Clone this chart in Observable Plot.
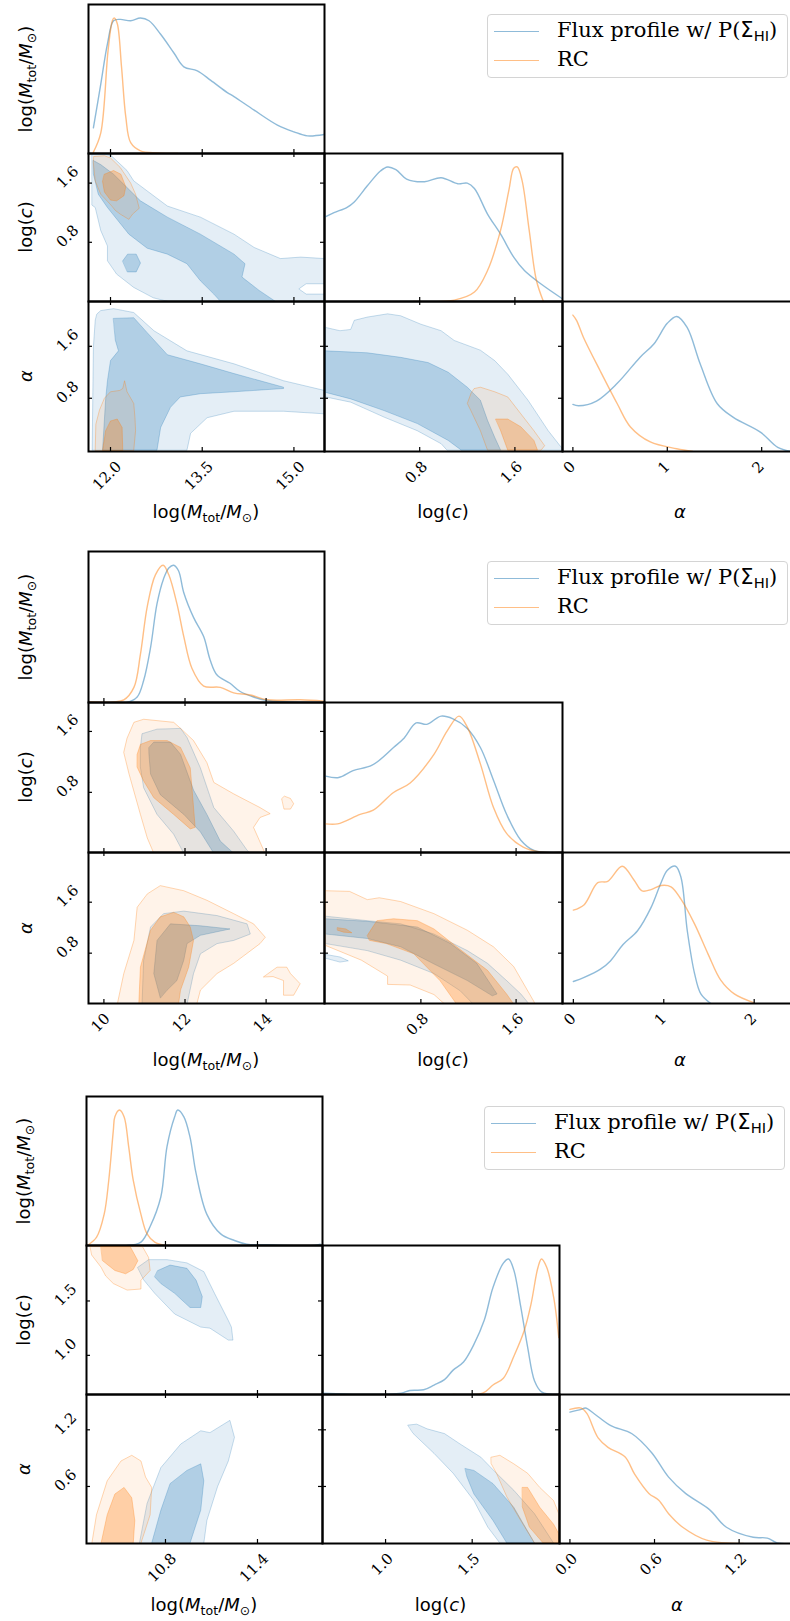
<!DOCTYPE html>
<html><head><meta charset="utf-8">
<script src="https://cdn.jsdelivr.net/npm/d3@7"></script>
<script src="https://cdn.jsdelivr.net/npm/@observablehq/plot@0.6"></script>
<style>
html,body{margin:0;padding:0;background:#fff;overflow:hidden}
#root{position:relative;width:790px;height:1621px;overflow:hidden}
.al{position:absolute;font-family:"DejaVu Sans",sans-serif;font-size:18px;white-space:nowrap;line-height:1;transform:translate(-50%,-50%);color:#000}
.al.v{transform:translate(-50%,-50%) rotate(-90deg)}
.al sub,.lg sub{font-size:0.7em;position:relative;top:0.28em;vertical-align:baseline;line-height:0}
.lg{position:absolute;width:299px;height:62px;border:1px solid #d4d4d4;border-radius:4px;background:rgba(255,255,255,0.8);font-family:"DejaVu Serif",serif;font-size:21px}
.lg .sw{position:absolute;left:6px;width:45px;height:0;border-top:1.5px solid}
.lg .tx{position:absolute;left:69px;line-height:1;transform:translateY(-55%);white-space:nowrap}
.sans{font-family:"DejaVu Sans",sans-serif}
</style></head>
<body><div id="root"></div>
<script>
// ---------------- Figure 1 data ----------------
const f1_tickM = ["12.0","13.5","15.0"], f1_tickc = ["0.8","1.6"], f1_ticka = ["0","1","2"], f1_tickcY = ["0.8","1.6"], f1_tickaY = ["0.8","1.6"];
const f1_M_blue = [[11.72,0.19],[11.84,0.51],[11.95,0.81],[12.05,0.98],[12.16,0.99],[12.33,0.98],[12.49,1.0],[12.63,0.98],[12.82,0.88],[13.04,0.74],[13.2,0.64],[13.42,0.61],[13.64,0.54],[13.91,0.45],[14.02,0.42],[14.35,0.32],[14.73,0.21],[15.0,0.16],[15.22,0.13],[15.49,0.14]];
const f1_M_orange = [[11.72,0.01],[11.84,0.15],[11.96,0.76],[12.03,0.98],[12.06,1.0],[12.11,0.96],[12.18,0.64],[12.25,0.27],[12.33,0.08],[12.49,0.02],[12.77,0.005],[13.1,0]];
const f1_c_blue = [[0.01,0.63],[0.08,0.66],[0.19,0.70],[0.25,0.74],[0.36,0.86],[0.47,0.97],[0.53,1.0],[0.60,0.98],[0.69,0.91],[0.84,0.89],[0.98,0.92],[1.12,0.875],[1.20,0.88],[1.26,0.84],[1.37,0.65],[1.48,0.50],[1.59,0.33],[1.68,0.23],[1.82,0.13],[2.0,0.02]];
const f1_c_orange = [[0.75,0],[1.09,0.01],[1.26,0.07],[1.37,0.23],[1.48,0.53],[1.55,0.83],[1.59,0.99],[1.62,1.0],[1.66,0.90],[1.72,0.53],[1.78,0.16],[1.84,0]];
const f1_a_blue = [[0,0.345],[0.06,0.335],[0.25,0.37],[0.47,0.50],[0.71,0.69],[0.86,0.79],[1.0,0.94],[1.10,0.99],[1.21,0.91],[1.35,0.64],[1.53,0.35],[1.70,0.25],[1.99,0.14],[2.17,0.03],[2.31,0]];
const f1_a_orange = [[0,1.0],[0.04,0.96],[0.11,0.84],[0.29,0.59],[0.47,0.35],[0.61,0.18],[0.82,0.07],[1.10,0.02],[1.27,0]];
const f1_Mc_blue_outer = [[[11.70,2.0],[12.0,1.98],[12.27,1.77],[12.38,1.63],[12.93,1.29],[13.47,1.14],[14.02,0.91],[14.35,0.73],[14.78,0.58],[15.11,0.6],[15.5,0.58],[15.5,0.24],[15.2,0.24],[15.08,0.17],[15.2,0.1],[15.5,0.1],[15.5,0],[12.94,0],[12.7,0.05],[12.38,0.19],[12.1,0.37],[11.95,0.55],[11.95,0.75],[11.84,0.96],[11.75,1.27],[11.70,1.3]]];
const f1_Mc_blue_inner = [[[11.72,1.905],[11.84,1.85],[12.05,1.72],[12.49,1.36],[12.93,1.14],[13.47,0.91],[14.02,0.64],[14.2,0.51],[14.15,0.33],[14.43,0.15],[14.7,0],[13.8,0],[13.69,0.1],[13.47,0.28],[13.25,0.51],[12.93,0.64],[12.6,0.72],[12.3,0.91],[11.95,1.27],[11.8,1.45],[11.72,1.72]],
  [[12.2,0.55],[12.28,0.64],[12.42,0.64],[12.49,0.52],[12.42,0.4],[12.28,0.4]]];
const f1_Mc_orange_outer = [[[11.73,1.96],[11.9,1.97],[12.0,1.94],[12.16,1.81],[12.33,1.6],[12.41,1.45],[12.47,1.26],[12.36,1.18],[12.3,1.11],[12.16,1.18],[12.08,1.23],[12.0,1.31],[11.84,1.45],[11.75,1.63],[11.72,1.87]]];
const f1_Mc_orange_inner = [[[11.9,1.72],[12.05,1.77],[12.17,1.72],[12.25,1.55],[12.22,1.43],[12.1,1.36],[12.0,1.37],[11.9,1.48],[11.87,1.62]]];
const f1_Ma_blue_outer = [[[11.78,2.10],[11.84,2.15],[12.05,2.18],[12.38,2.12],[12.71,1.84],[13.25,1.53],[14.02,1.33],[14.83,1.07],[15.5,0.92],[15.5,0.56],[14.83,0.6],[14.02,0.6],[13.58,0.5],[13.31,0.26],[13.25,0],[11.70,0],[11.72,1.59],[11.75,2.0]]];
const f1_Ma_blue_inner = [[[12.05,2.03],[12.38,2.04],[12.6,1.81],[12.93,1.47],[13.47,1.33],[14.02,1.18],[14.83,0.97],[14.83,0.95],[14.02,0.9],[13.47,0.87],[13.14,0.82],[12.98,0.66],[12.82,0.35],[12.76,0],[11.87,0],[11.92,0.78],[11.95,1.07],[12.0,1.38],[12.13,1.53],[12.08,1.69]]];
const f1_Ma_orange_outer = [[[11.75,0],[11.76,0.4],[11.82,0.62],[11.9,0.8],[12.0,0.9],[12.15,0.92],[12.2,0.95],[12.23,1.07],[12.27,0.9],[12.38,0.72],[12.4,0.5],[12.41,0.3],[12.38,0]]];
const f1_Ma_orange_inner = [[[11.87,0],[11.92,0.3],[12.0,0.45],[12.11,0.48],[12.19,0.35],[12.2,0]]];
const f1_ca_blue_outer = [[[0.01,1.89],[0.13,1.84],[0.22,1.86],[0.25,2.0],[0.36,2.05],[0.53,2.10],[0.64,2.07],[0.81,1.94],[0.98,1.84],[1.09,1.69],[1.31,1.54],[1.43,1.38],[1.54,1.17],[1.71,0.77],[1.88,0.30],[2.0,0.02],[2.0,0],[1.03,0],[0.98,0.1],[0.78,0.3],[0.5,0.51],[0.22,0.74],[0.01,0.82]]];
const f1_ca_blue_inner = [[[0.01,1.53],[0.36,1.5],[0.64,1.43],[0.87,1.35],[1.04,1.2],[1.2,0.97],[1.31,0.77],[1.37,0.46],[1.43,0.2],[1.48,0],[1.15,0],[1.04,0.15],[0.78,0.41],[0.5,0.61],[0.22,0.79],[0.01,0.89]]];
const f1_ca_orange_outer = [[[1.26,0.95],[1.31,0.97],[1.43,0.9],[1.54,0.82],[1.65,0.56],[1.76,0.30],[1.85,0.07],[1.82,0],[1.37,0],[1.31,0.3],[1.23,0.61],[1.2,0.72],[1.23,0.87]]];
const f1_ca_orange_inner = [[[1.44,0.48],[1.54,0.48],[1.65,0.36],[1.76,0.15],[1.79,0],[1.54,0],[1.48,0.3]]];

// ---------------- Figure 2 data ----------------
const f2_tickM = ["10","12","14"], f2_tickc = ["0.8","1.6"], f2_ticka = ["0","1","2"], f2_tickcY = ["0.8","1.6"], f2_tickaY = ["0.8","1.6"];
const f2_M_blue = [[9.62,0],[10.57,0],[10.82,0.04],[10.98,0.16],[11.15,0.40],[11.31,0.72],[11.47,0.90],[11.6,0.98],[11.72,1.0],[11.84,0.96],[11.97,0.80],[12.21,0.62],[12.46,0.48],[12.62,0.31],[12.79,0.20],[13.11,0.14],[13.36,0.08],[13.69,0.04],[14.02,0.015],[14.43,0.005],[15.44,0]];
const f2_M_orange = [[9.62,0.005],[10.49,0.02],[10.74,0.11],[10.9,0.35],[11.07,0.70],[11.27,0.93],[11.46,1.0],[11.6,0.93],[11.8,0.72],[11.97,0.48],[12.17,0.25],[12.46,0.12],[12.87,0.11],[13.2,0.07],[13.61,0.055],[14.02,0.02],[14.84,0.02],[15.44,0.01]];
const f2_c_blue = [[0.0,0.56],[0.11,0.55],[0.23,0.60],[0.39,0.64],[0.57,0.77],[0.66,0.84],[0.76,0.95],[0.85,0.94],[0.97,1.0],[1.07,0.98],[1.19,0.91],[1.30,0.77],[1.41,0.53],[1.52,0.28],[1.64,0.09],[1.75,0.015],[1.98,0]];
const f2_c_orange = [[0.0,0.21],[0.1,0.21],[0.29,0.28],[0.4,0.31],[0.57,0.44],[0.71,0.51],[0.91,0.72],[1.02,0.89],[1.12,1.0],[1.19,0.92],[1.30,0.65],[1.41,0.33],[1.52,0.14],[1.66,0.04],[1.8,0.005],[1.98,0]];
const f2_a_blue = [[0,0.16],[0.12,0.19],[0.3,0.25],[0.41,0.31],[0.55,0.43],[0.71,0.53],[0.86,0.70],[0.97,0.88],[1.04,0.97],[1.13,1.0],[1.19,0.92],[1.26,0.53],[1.34,0.22],[1.41,0.07],[1.52,0]];
const f2_a_orange = [[0,0.68],[0.12,0.72],[0.27,0.88],[0.38,0.89],[0.54,1.0],[0.67,0.9],[0.76,0.82],[0.86,0.83],[0.97,0.86],[1.08,0.85],[1.19,0.76],[1.34,0.58],[1.49,0.36],[1.63,0.17],[1.78,0.07],[2.0,0.005]];
const f2_Mc_blue_outer = [[[10.9,1.39],[10.94,1.57],[11.31,1.63],[11.89,1.64],[12.05,1.52],[12.38,1.12],[12.71,0.6],[13.2,0.29],[13.53,0.04],[13.61,0],[11.97,0],[11.72,0.25],[11.31,0.51],[10.98,0.86],[10.9,1.13]]];
const f2_Mc_blue_inner = [[[11.11,1.39],[11.23,1.46],[11.64,1.46],[11.89,1.3],[12.21,0.83],[12.54,0.51],[12.87,0.16],[13.2,0],[12.71,0],[12.38,0.28],[11.97,0.51],[11.39,0.77],[11.15,1.04],[11.11,1.3]]];
const f2_Mc_orange_outer = [[[10.49,1.33],[10.57,1.51],[10.74,1.72],[10.98,1.76],[11.72,1.72],[11.89,1.64],[12.21,1.48],[12.54,1.19],[12.71,0.93],[13.2,0.78],[13.85,0.6],[14.1,0.52],[13.85,0.47],[13.69,0.34],[13.94,0.04],[13.98,0],[11.23,0],[11.07,0.2],[10.9,0.51],[10.62,1.04]],
  [[14.39,0.72],[14.45,0.75],[14.6,0.72],[14.68,0.65],[14.6,0.58],[14.45,0.58]]];
const f2_Mc_orange_inner = [[[10.82,1.30],[10.9,1.43],[11.15,1.48],[11.56,1.48],[11.89,1.39],[12.13,1.12],[12.17,0.87],[12.25,0.34],[12.13,0.32],[11.72,0.51],[11.23,0.73],[10.98,0.95],[10.82,1.13]]];
const f2_Ma_blue_outer = [[[10.94,0],[10.98,0.69],[11.15,1.21],[11.47,1.42],[11.97,1.46],[12.79,1.39],[13.53,1.26],[13.61,1.1],[13.2,1.0],[12.79,0.95],[12.38,0.79],[12.21,0.48],[12.05,0]]];
const f2_Ma_blue_inner = [[[11.39,0.1],[11.23,0.48],[11.31,1.0],[11.64,1.26],[12.38,1.23],[13.11,1.18],[12.38,1.08],[12.05,0.95],[11.97,0.69],[11.8,0.37],[11.56,0.22]]];
const f2_Ma_orange_outer = [[[10.33,0],[10.49,0.48],[10.74,1.0],[10.82,1.52],[11.07,1.73],[11.39,1.86],[11.97,1.78],[12.54,1.63],[13.2,1.42],[13.69,1.26],[13.98,1.05],[13.85,0.95],[13.2,0.64],[12.79,0.48],[12.38,0.22],[12.29,0]],
  [[13.94,0.43],[14.27,0.58],[14.51,0.58],[14.6,0.48],[14.84,0.32],[14.68,0.14],[14.43,0.14],[14.43,0.37],[14.18,0.43]]];
const f2_Ma_orange_inner = [[[10.86,0],[10.9,0.58],[11.15,1.16],[11.39,1.37],[11.72,1.44],[11.97,1.37],[12.13,1.21],[12.21,1.0],[12.09,0.58],[11.89,0.22],[11.84,0]]];
const f2_ca_blue_outer = [[[0.0,1.38],[0.35,1.31],[0.63,1.26],[0.91,1.1],[1.19,0.84],[1.36,0.64],[1.52,0.37],[1.64,0.16],[1.71,0],[1.24,0],[1.13,0.21],[0.91,0.48],[0.63,0.69],[0.35,0.84],[0.0,0.95]],
  [[0.0,0.78],[0.12,0.74],[0.19,0.68],[0.12,0.66],[0.0,0.72]]];
const f2_ca_blue_inner = [[[0.0,1.34],[0.35,1.3],[0.77,1.21],[1.05,0.95],[1.27,0.64],[1.44,0.16],[1.40,0.13],[1.19,0.37],[0.91,0.63],[0.63,0.9],[0.35,1.03],[0.0,1.1]]];
const f2_ca_orange_outer = [[[0.0,1.78],[0.2,1.77],[0.35,1.64],[0.45,1.67],[0.63,1.61],[0.91,1.42],[1.19,1.16],[1.41,0.9],[1.58,0.59],[1.75,0.04],[1.76,0],[1.0,0],[0.91,0.15],[0.71,0.30],[0.52,0.31],[0.52,0.44],[0.3,0.69],[0.0,0.92]]];
const f2_ca_orange_inner = [[[0.35,1.08],[0.43,1.31],[0.57,1.34],[0.77,1.31],[0.91,1.18],[1.1,0.9],[1.36,0.53],[1.52,0.16],[1.58,0],[1.1,0],[0.96,0.37],[0.74,0.79],[0.51,0.95],[0.37,1.0]],
  [[0.1,1.2],[0.17,1.18],[0.22,1.12],[0.15,1.13],[0.1,1.16]]];

// ---------------- Figure 3 data ----------------
const f3_tickM = ["10.8","11.4"], f3_tickc = ["1.0","1.5"], f3_ticka = ["0.0","0.6","1.2"], f3_tickcY = ["1.0","1.5"], f3_tickaY = ["0.6","1.2"];
const f3_M_blue = [[10.55,0],[10.64,0.025],[10.7,0.14],[10.77,0.36],[10.81,0.73],[10.86,0.95],[10.88,1.0],[10.92,0.95],[10.96,0.8],[11.0,0.53],[11.07,0.23],[11.16,0.086],[11.25,0.037],[11.33,0.01],[11.46,0.005],[11.77,0],[11.81,0.01]];
const f3_M_orange = [[10.29,0],[10.35,0.06],[10.4,0.23],[10.43,0.48],[10.46,0.85],[10.47,0.95],[10.5,1.0],[10.53,0.95],[10.56,0.73],[10.59,0.48],[10.64,0.23],[10.68,0.086],[10.73,0.025],[10.8,0]];
const f3_c_blue = [[0.635,0.01],[0.89,0],[1.09,0.01],[1.14,0.03],[1.22,0.035],[1.28,0.07],[1.34,0.11],[1.39,0.18],[1.45,0.24],[1.51,0.37],[1.57,0.55],[1.62,0.79],[1.68,0.97],[1.71,1.0],[1.74,0.92],[1.78,0.65],[1.82,0.35],[1.86,0.10],[1.9,0.02],[2.0,0]];
const f3_c_orange = [[1.39,0],[1.56,0.01],[1.62,0.07],[1.68,0.12],[1.74,0.28],[1.8,0.47],[1.84,0.67],[1.88,0.94],[1.9,1.0],[1.93,0.94],[1.97,0.72],[2.0,0.42]];
const f3_a_blue = [[0,0.97],[0.08,0.99],[0.11,1.0],[0.17,0.96],[0.29,0.87],[0.44,0.81],[0.58,0.67],[0.70,0.49],[0.82,0.37],[0.99,0.25],[1.11,0.12],[1.30,0.046],[1.40,0.04],[1.47,0.005],[1.59,0]];
const f3_a_orange = [[0,0.99],[0.08,1.0],[0.12,0.96],[0.2,0.78],[0.27,0.71],[0.39,0.64],[0.46,0.51],[0.56,0.37],[0.63,0.32],[0.70,0.22],[0.8,0.12],[0.97,0.025],[1.23,0]];
const f3_Mc_blue_outer = [[[10.62,1.81],[10.69,1.88],[10.81,1.88],[10.94,1.85],[11.05,1.77],[11.12,1.57],[11.21,1.32],[11.23,1.26],[11.24,1.14],[11.21,1.14],[11.09,1.25],[11.03,1.26],[10.86,1.38],[10.73,1.57],[10.66,1.69]]];
const f3_Mc_blue_inner = [[[10.75,1.78],[10.83,1.83],[10.94,1.8],[11.0,1.69],[11.04,1.54],[11.03,1.44],[10.96,1.44],[10.86,1.57],[10.77,1.66],[10.73,1.72]]];
const f3_Mc_orange_outer = [[[10.31,2.0],[10.65,2.0],[10.69,1.9],[10.70,1.78],[10.64,1.69],[10.64,1.61],[10.55,1.6],[10.46,1.66],[10.41,1.73],[10.38,1.81],[10.32,1.92]]];
const f3_Mc_orange_inner = [[[10.38,2.0],[10.57,2.0],[10.62,1.87],[10.59,1.79],[10.54,1.75],[10.47,1.78],[10.39,1.87]]];
const f3_Ma_blue_outer = [[[10.63,0],[10.68,0.42],[10.77,0.8],[10.9,1.05],[11.03,1.19],[11.09,1.17],[11.22,1.30],[11.25,1.12],[11.21,0.87],[11.14,0.6],[11.07,0.24],[11.05,0]]];
const f3_Ma_blue_inner = [[[10.71,0],[10.77,0.35],[10.83,0.63],[10.94,0.77],[11.03,0.84],[11.05,0.66],[11.03,0.35],[10.96,0]]];
const f3_Ma_orange_outer = [[[10.32,0],[10.35,0.3],[10.42,0.66],[10.51,0.87],[10.58,0.93],[10.64,0.87],[10.67,0.70],[10.71,0.59],[10.7,0.3],[10.64,0]]];
const f3_Ma_orange_inner = [[[10.38,0],[10.42,0.3],[10.47,0.52],[10.53,0.59],[10.58,0.48],[10.6,0.24],[10.59,0]]];
const f3_ca_blue_outer = [[[1.13,1.25],[1.18,1.26],[1.24,1.21],[1.34,1.16],[1.43,1.05],[1.55,0.91],[1.64,0.74],[1.74,0.56],[1.86,0.31],[1.97,0],[1.66,0],[1.59,0.17],[1.51,0.45],[1.39,0.74],[1.28,0.95],[1.16,1.16]]];
const f3_ca_blue_inner = [[[1.46,0.79],[1.51,0.77],[1.62,0.63],[1.74,0.38],[1.86,0],[1.70,0],[1.62,0.24],[1.51,0.52],[1.47,0.70]]];
const f3_ca_orange_outer = [[[1.61,0.91],[1.66,0.93],[1.74,0.84],[1.82,0.74],[1.89,0.59],[1.97,0.45],[2.0,0.31],[2.0,0],[1.86,0],[1.78,0.24],[1.70,0.49],[1.64,0.74],[1.61,0.84]]];
const f3_ca_orange_inner = [[[1.79,0.59],[1.82,0.59],[1.89,0.38],[1.97,0.2],[2.0,0.1],[2.0,0],[1.91,0],[1.83,0.17],[1.79,0.38]]];

const seriesNames = ["Flux profile w/ P(Σ_HI)", "RC"];

// ---------------- rendering ----------------
const BL = "#1f77b4", OR = "#ff7f0e";
const root = document.getElementById("root");

function flat(polys){ return polys.flatMap((p,i)=>p.map(d=>({x:d[0], y:d[1], k:i}))); }
function kde(blue, orange){
  const o = {x:d=>d[0], y:d=>d[1], strokeOpacity:0.5, strokeWidth:1.4, curve:"catmull-rom", clip:true};
  return [Plot.line(blue, {...o, stroke:BL}), Plot.line(orange, {...o, stroke:OR})];
}
function fills(bo, bi, oo, oi){
  const f = (polys, c, a, sa) => Plot.line(flat(polys), {x:"x", y:"y", z:"k", curve:"linear-closed", fill:c, fillOpacity:a, stroke:c, strokeOpacity:sa, strokeWidth:0.9, clip:true});
  return [f(bo, BL, 0.12, 0.28), f(bi, BL, 0.26, 0.3), f(oo, OR, 0.09, 0.35), f(oi, OR, 0.3, 0.35)];
}
function textW(s){ let w=0; for (const ch of s) w += (ch==="." ? 4.8 : 9.5); return w; }
function half(s){ return (textW(s)+14)/(2*Math.SQRT2); }
const tfont = {fontSize:15, fontFamily:"DejaVu Serif", fill:"black"};

function panel(o){
  const {left, top, w, h, xd, yd, marks, xt, yt, xLab, yLab, box} = o;
  const tk = {stroke:"black", strokeWidth:1.2};
  const m = [...marks];
  if (xt){
    m.push(Plot.tickX(xt, {x:d=>+d, insetTop:h-4, ...tk}));
    if (box) m.push(Plot.tickX(xt, {x:d=>+d, insetBottom:h-4, ...tk}));
  }
  if (yt && box){
    m.push(Plot.tickY(yt, {y:d=>+d, insetLeft:w-4, ...tk}));
    m.push(Plot.tickY(yt, {y:d=>+d, insetRight:w-4, ...tk}));
  }
  m.push(Plot.frame({stroke:"black", strokeWidth:2}));
  if (xLab) for (const t of xt) m.push(Plot.text([t], {x:d=>+d, frameAnchor:"bottom", dy:11+half(t), rotate:-45, text:d=>d, ...tfont}));
  if (yLab) for (const t of yt) m.push(Plot.text([t], {y:d=>+d, frameAnchor:"left", dx:-(16+half(t)), dy:2.5, rotate:-45, text:d=>d, ...tfont}));
  const svg = Plot.plot({width:w, height:h, marginTop:0, marginBottom:0, marginLeft:0, marginRight:0,
    x:{domain:xd, axis:null}, y:{domain:yd, axis:null},
    style:{background:"transparent", overflow:"visible"}, marks:m});
  Object.assign(svg.style, {position:"absolute", left:left+"px", top:top+"px", maxWidth:"none"});
  root.appendChild(svg);
}

const mlab = 'log(<i>M</i><sub>tot</sub>/<i>M</i><sub>⊙</sub>)';
const clab = 'log(<i>c</i>)';
const alab = '<i>α</i>';
function label(html, x, y, vertical){
  const d = document.createElement("div");
  d.className = "al" + (vertical ? " v" : "");
  d.style.left = x + "px"; d.style.top = y + "px";
  d.innerHTML = html; root.appendChild(d);
}
function legend(x, y){
  const d = document.createElement("div");
  d.className = "lg"; d.style.left = x + "px"; d.style.top = y + "px";
  d.innerHTML =
    `<div class="sw" style="top:16px;border-color:rgba(31,119,180,0.5)"></div>` +
    `<div class="tx" style="top:17px">Flux profile w/ P(<span class="sans">Σ<sub>HI</sub></span>)</div>` +
    `<div class="sw" style="top:45px;border-color:rgba(255,127,14,0.5)"></div>` +
    `<div class="tx" style="top:46px">RC</div>`;
  root.appendChild(d);
}

function corner(F){
  const [x0,x1,x2] = F.left, [w0,w1,w2] = F.wid, [y0,y1,y2] = F.top, [h0,h1,h2] = F.hgt;
  const D = [0, 1.1];
  panel({left:x0, top:y0, w:w0, h:h0, xd:F.dM, yd:D, marks:kde(...F.M), xt:F.tM});
  panel({left:x0, top:y1, w:w0, h:h1, xd:F.dM, yd:F.dcY, marks:fills(...F.Mc), xt:F.tM, yt:F.tcY, box:true, yLab:true});
  panel({left:x1, top:y1, w:w1, h:h1, xd:F.dc, yd:D, marks:kde(...F.c), xt:F.tc});
  panel({left:x0, top:y2, w:w0, h:h2, xd:F.dM, yd:F.daY, marks:fills(...F.Ma), xt:F.tM, yt:F.taY, box:true, xLab:true, yLab:true});
  panel({left:x1, top:y2, w:w1, h:h2, xd:F.dc, yd:F.daY, marks:fills(...F.ca), xt:F.tc, yt:F.taY, box:true, xLab:true});
  panel({left:x2, top:y2, w:w2, h:h2, xd:F.daX, yd:D, marks:kde(...F.a), xt:F.ta, xLab:true});
  const by = y2 + h2 + F.labOff;
  label(mlab, x0 + w0/2, by); label(clab, x1 + w1/2, by); label(alab, x2 + w2/2, by);
  label(mlab, F.ylx, y0 + h0/2, true); label(clab, F.ylx, y1 + h1/2, true); label(alab, F.ylx, y2 + h2/2, true);
  legend(F.lgx, y0 + 10);
}

corner({left:[88,324,562], wid:[236,238,236], top:[4,153,301], hgt:[149,148,150],
  dM:[11.64,15.5], dc:[0,2], daX:[-0.11,2.39], dcY:[0,2], daY:[-0.02,2.29],
  tM:f1_tickM, tc:f1_tickc, ta:f1_ticka, tcY:f1_tickcY, taY:f1_tickaY,
  M:[f1_M_blue,f1_M_orange], c:[f1_c_blue,f1_c_orange], a:[f1_a_blue,f1_a_orange],
  Mc:[f1_Mc_blue_outer,f1_Mc_blue_inner,f1_Mc_orange_outer,f1_Mc_orange_inner],
  Ma:[f1_Ma_blue_outer,f1_Ma_blue_inner,f1_Ma_orange_outer,f1_Ma_orange_inner],
  ca:[f1_ca_blue_outer,f1_ca_blue_inner,f1_ca_orange_outer,f1_ca_orange_inner],
  labOff:61, ylx:26, lgx:487});
corner({left:[88,324,562], wid:[236,238,236], top:[551,702,852], hgt:[151,150,151],
  dM:[9.62,15.44], dc:[-0.01,1.99], daX:[-0.12,2.49], dcY:[0.01,1.98], daY:[0.01,2.38],
  tM:f2_tickM, tc:f2_tickc, ta:f2_ticka, tcY:f2_tickcY, taY:f2_tickaY,
  M:[f2_M_blue,f2_M_orange], c:[f2_c_blue,f2_c_orange], a:[f2_a_blue,f2_a_orange],
  Mc:[f2_Mc_blue_outer,f2_Mc_blue_inner,f2_Mc_orange_outer,f2_Mc_orange_inner],
  Ma:[f2_Ma_blue_outer,f2_Ma_blue_inner,f2_Ma_orange_outer,f2_Ma_orange_inner],
  ca:[f2_ca_blue_outer,f2_ca_blue_inner,f2_ca_orange_outer,f2_ca_orange_inner],
  labOff:57, ylx:26, lgx:487});
corner({left:[86,322,559], wid:[236,237,236], top:[1096,1245,1394], hgt:[149,149,149],
  dM:[10.285,11.824], dc:[0.636,2.004], daX:[-0.074,1.6], dcY:[0.64,2.01], daY:[-0.004,1.574],
  tM:f3_tickM, tc:f3_tickc, ta:f3_ticka, tcY:f3_tickcY, taY:f3_tickaY,
  M:[f3_M_blue,f3_M_orange], c:[f3_c_blue,f3_c_orange], a:[f3_a_blue,f3_a_orange],
  Mc:[f3_Mc_blue_outer,f3_Mc_blue_inner,f3_Mc_orange_outer,f3_Mc_orange_inner],
  Ma:[f3_Ma_blue_outer,f3_Ma_blue_inner,f3_Ma_orange_outer,f3_Ma_orange_inner],
  ca:[f3_ca_blue_outer,f3_ca_blue_inner,f3_ca_orange_outer,f3_ca_orange_inner],
  labOff:62, ylx:24, lgx:484});
</script>
</body></html>
